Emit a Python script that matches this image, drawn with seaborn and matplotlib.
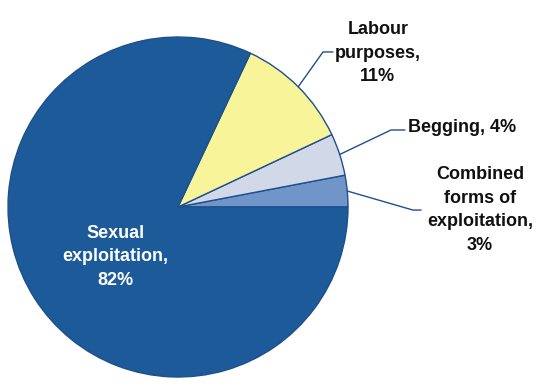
import numpy as np
import seaborn as sns
import matplotlib.pyplot as plt

# Trafficking by form of exploitation (%)
categories = ["Combined\nforms of\nexploitation,", "Begging,", "Labour\npurposes,", "Sexual\nexploitation,"]
shares = [3, 4, 11, 82]
colors = ["#7095c8", "#d1d9e9", "#f8f49a", "#1c5a9a"]

sns.set_style("white")
plt.rcParams['font.family'] = ['Liberation Sans', 'DejaVu Sans']

fig = plt.figure(figsize=(5.37, 3.89), dpi=100)
ax = fig.add_axes([8 / 537, 12 / 389, 340 / 537, 340 / 389])

wedges, _ = ax.pie(shares, colors=colors, startangle=0, counterclock=True,
                   radius=1, wedgeprops=dict(edgecolor="#1f4f8c", linewidth=1))
ax.set_xlim(-1, 1)
ax.set_ylim(-1, 1)
ax.set_aspect("auto")
ax.axis("off")

line_col = "#1f4f8c"
font = dict(fontsize=13, fontweight="bold", linespacing=1.5)

# outside labels: (elbow, end of leader, text position, alignment)
outside = {
    2: ((0.853, 0.912), (0.912, 0.912), (1.176, 0.905), "center"),
    1: ((1.253, 0.453), (1.335, 0.453), (1.353, 0.465), "left"),
    0: ((1.382, -0.018), (1.43, -0.018), (1.776, -0.018), "center"),
}
for i, (elbow, end, txt, ha) in outside.items():
    w = wedges[i]
    mid = np.deg2rad((w.theta1 + w.theta2) / 2)
    sx, sy = np.cos(mid), np.sin(mid)
    ax.plot([sx, elbow[0], end[0]], [sy, elbow[1], end[1]], color=line_col,
            lw=1, clip_on=False)
    label = f"{categories[i]} {shares[i]}%" if i == 1 else f"{categories[i]}\n{shares[i]}%"
    ax.text(txt[0], txt[1], label, ha=ha, va="center", color="#111111", **font)

ax.text(-0.37, -0.294, f"{categories[3]}\n{shares[3]}%", ha="center", va="center",
        color="white", **font)

fig.savefig("out.png", dpi=100)
